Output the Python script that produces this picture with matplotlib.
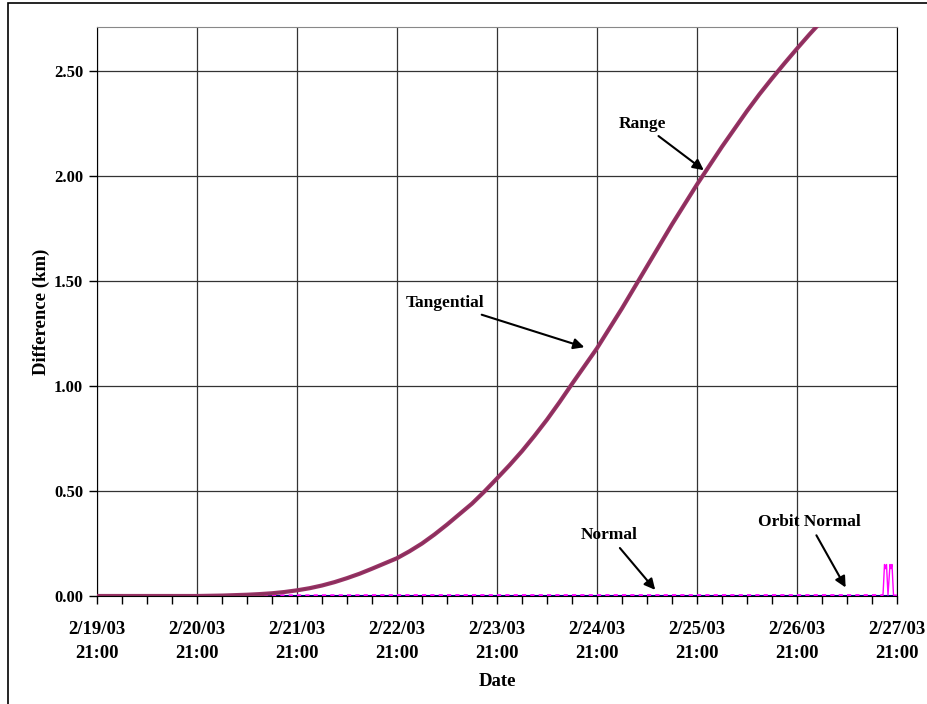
import matplotlib.pyplot as plt
from matplotlib.patches import Rectangle
from matplotlib.ticker import MultipleLocator

# days since 2/19/03 21:00, 3-hour steps
days = [0.0, 0.25, 0.5, 0.75, 1.0, 1.125, 1.25, 1.375, 1.5, 1.625, 1.75, 1.875,
        2.0, 2.125, 2.25, 2.375, 2.5, 2.625, 2.75, 2.875, 3.0, 3.125, 3.25, 3.375,
        3.5, 3.625, 3.75, 3.875, 4.0, 4.125, 4.25, 4.375, 4.5, 4.625, 4.75, 4.875,
        5.0, 5.125, 5.25, 5.375, 5.5, 5.625, 5.75, 5.875, 6.0, 6.125, 6.25, 6.375,
        6.5, 6.625, 6.75, 6.875, 7.0, 7.125, 7.25, 7.375, 7.5]
tangential = [0.0, 0.0, 0.0, 0.0, 0.0, 0.001, 0.002, 0.004, 0.006, 0.009, 0.013, 0.019,
              0.027, 0.037, 0.05, 0.066, 0.085, 0.106, 0.13, 0.155, 0.18, 0.213, 0.25, 0.293,
              0.34, 0.39, 0.44, 0.498, 0.56, 0.623, 0.69, 0.763, 0.84, 0.923, 1.01, 1.095,
              1.18, 1.275, 1.37, 1.47, 1.57, 1.67, 1.77, 1.865, 1.96, 2.05, 2.14, 2.225,
              2.31, 2.39, 2.465, 2.537, 2.607, 2.675, 2.74, 2.80, 2.86]
range_km = list(tangential)

orbit_days = [0.0, 8.0]
orbit_normal = [0.0, 0.0]

normal_days = [1.0, 2.0, 3.0, 4.0, 5.0, 6.0, 7.0, 7.86, 7.875, 7.885, 7.895, 7.91,
               7.93, 7.94, 7.95, 7.965, 8.0]
normal = [0.002, 0.003, 0.004, 0.004, 0.004, 0.004, 0.004, 0.004, 0.15, 0.13, 0.15, 0.004,
          0.15, 0.13, 0.15, 0.004, 0.004]

xtick_labels = ["2/19/03\n21:00", "2/20/03\n21:00", "2/21/03\n21:00", "2/22/03\n21:00",
                "2/23/03\n21:00", "2/24/03\n21:00", "2/25/03\n21:00", "2/26/03\n21:00",
                "2/27/03\n21:00"]

plt.rcParams['font.family'] = ['Liberation Serif', 'DejaVu Serif']
plt.rcParams['font.weight'] = 'bold'

fig = plt.figure(figsize=(9.28, 7.04), dpi=100)
fig.patches.append(Rectangle((8 / 928, -0.1), 1.2, 1.1 - 3 / 704,
                             transform=fig.transFigure, fill=False,
                             edgecolor='black', linewidth=1.2))
ax = fig.add_axes([97 / 928, (704 - 596) / 704, 800 / 928, (596 - 27) / 704])

ax.plot(orbit_days, orbit_normal, color='#000080', linewidth=1.5, zorder=3)
n_split = 7
ax.plot(normal_days[:n_split + 1], normal[:n_split + 1], color='#FF00FF',
        linewidth=1.5, linestyle=(0, (2, 2)), zorder=4)
ax.plot(normal_days[n_split:], normal[n_split:], color='#FF00FF', linewidth=1.0, zorder=4)
ax.plot(days, range_km, color='#993366', linewidth=3.0, zorder=5)
ax.plot(days, tangential, color='#8B2F5C', linewidth=1.2, zorder=6)

ax.set_xlim(0, 8)
ax.set_ylim(0, 2.71)
ax.xaxis.set_minor_locator(MultipleLocator(0.25))
ax.yaxis.set_major_locator(MultipleLocator(0.5))
ax.set_xticks(range(9))
ax.set_xticklabels(xtick_labels, fontsize=13.5, fontweight='bold', linespacing=1.5)
ax.set_yticklabels([f"{v:.2f}" for v in ax.get_yticks()], fontsize=12, fontweight='bold')
ax.tick_params(axis='both', which='both', direction='out', length=6, width=1, color='black')
ax.tick_params(axis='x', which='major', pad=12)
ax.tick_params(axis='y', which='major', pad=4)
ax.grid(True, which='major', color='#333333', linewidth=0.9)
ax.set_axisbelow(True)
ax.spines['top'].set_color('#888888')
for s in ['left', 'right', 'bottom']:
    ax.spines[s].set_color('black')

ax.set_xlabel("Date", fontsize=13.5, fontweight='bold', labelpad=8)
ax.set_ylabel("Difference (km)", fontsize=13.5, fontweight='bold', labelpad=3)

arrow = dict(arrowstyle='-|>', color='black', linewidth=1.5, mutation_scale=16)
ax.annotate("Range", xy=(6.09, 2.02), xytext=(5.45, 2.25), fontsize=12.5,
            fontweight='bold', ha='center', va='center', arrowprops=arrow)
ax.annotate("Tangential", xy=(4.90, 1.181), xytext=(3.48, 1.395), fontsize=12.5,
            fontweight='bold', ha='center', va='center', arrowprops=arrow)
ax.annotate("Normal", xy=(5.60, 0.019), xytext=(5.12, 0.29), fontsize=12.5,
            fontweight='bold', ha='center', va='center', arrowprops=arrow)
ax.annotate("Orbit Normal", xy=(7.50, 0.029), xytext=(7.12, 0.352), fontsize=12.5,
            fontweight='bold', ha='center', va='center', arrowprops=arrow)

fig.savefig("out.png", dpi=100)
